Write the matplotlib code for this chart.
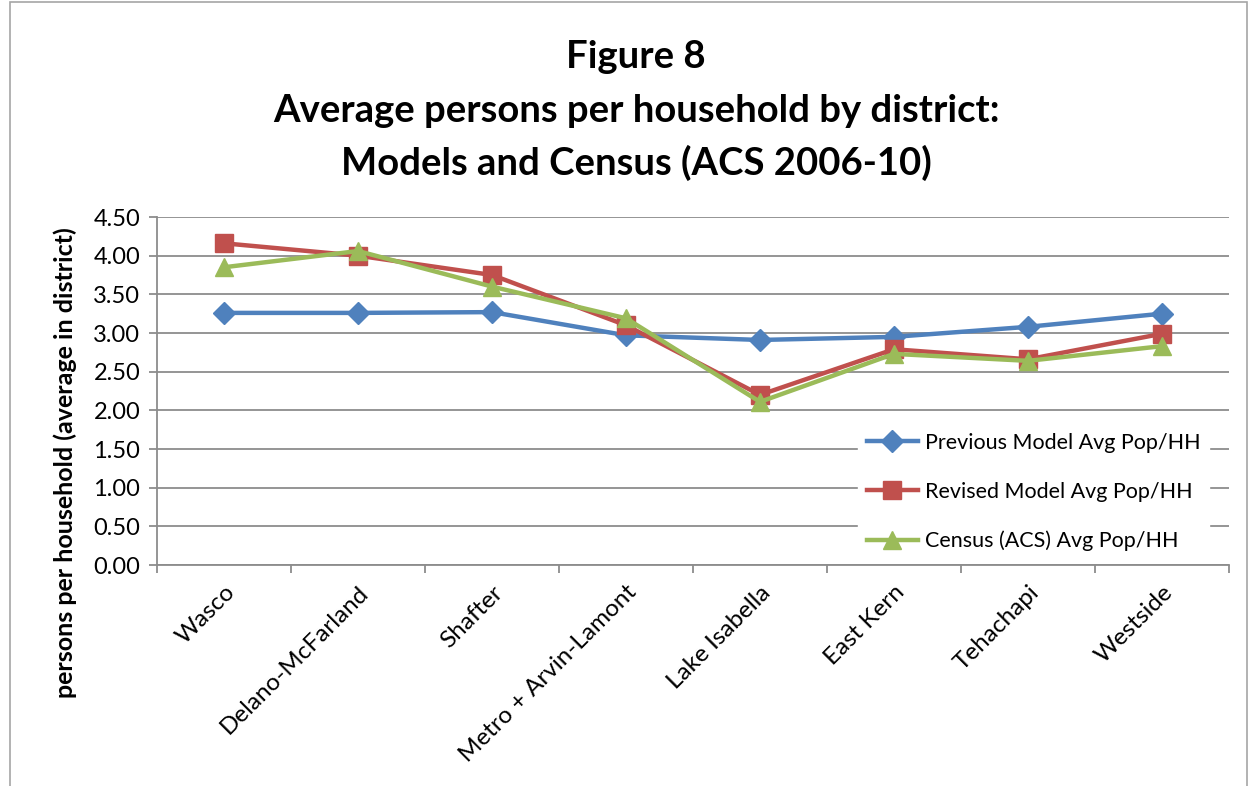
import numpy as np
import matplotlib
matplotlib.use("Agg")
import matplotlib.pyplot as plt
from matplotlib.patches import Rectangle

plt.rcParams['font.family'] = ['Lato', 'DejaVu Sans']

districts = ["Wasco", "Delano-McFarland", "Shafter", "Metro + Arvin-Lamont",
             "Lake Isabella", "East Kern", "Tehachapi", "Westside"]
previous = [3.26, 3.26, 3.27, 2.97, 2.91, 2.95, 3.08, 3.25]
revised = [4.16, 4.00, 3.75, 3.10, 2.20, 2.79, 2.66, 2.99]
census = [3.85, 4.06, 3.60, 3.19, 2.11, 2.73, 2.64, 2.83]

W, H = 1254, 786
fig = plt.figure(figsize=(W/100, H/100), dpi=100)
ax = fig.add_axes([157/W, 1-565/H, (1229-157)/W, (565-217)/H])

# outer chart border
fig.patches.append(Rectangle((10/W, -0.05), (1247-10)/W, 1.05-2/H, transform=fig.transFigure,
                             fill=False, edgecolor="#a6a6a6", lw=1.2))

x = np.arange(len(districts))
ax.plot(x, previous, color="#4F81BD", lw=3.2, marker="D", ms=11, label="Previous Model Avg Pop/HH", zorder=3)
ax.plot(x, revised, color="#C0504D", lw=3.2, marker="s", ms=12.5, label="Revised Model Avg Pop/HH", zorder=4)
ax.plot(x, census, color="#9BBB59", lw=3.2, marker="^", ms=13.5, label="Census (ACS) Avg Pop/HH", zorder=5)

ax.set_xlim(-0.5, len(districts)-0.5)
ax.set_ylim(0, 4.5)
ax.set_yticks(np.arange(0, 4.51, 0.5))
ax.set_yticklabels([f"{v:.2f}" for v in np.arange(0, 4.51, 0.5)], fontsize=17)
ax.yaxis.grid(True, color="#8c8c8c", lw=1.3)
ax.set_axisbelow(True)
for s in ["top", "right"]:
    ax.spines[s].set_visible(False)
for s in ["left", "bottom"]:
    ax.spines[s].set_color("#8c8c8c")
    ax.spines[s].set_linewidth(1.3)
ax.tick_params(axis="y", length=6, color="#8c8c8c", width=1.3, pad=6)

# category boundary ticks
ax.set_xticks(np.arange(-0.5, len(districts), 1.0))
ax.set_xticklabels([])
ax.tick_params(axis="x", length=6, color="#8c8c8c", width=1.3)
ax.set_xticks(x, minor=True)
ax.set_xticklabels(districts, minor=True, rotation=45, ha="right", rotation_mode="anchor", fontsize=17.5)
ax.tick_params(axis="x", which="minor", length=0, pad=12)

fig.text(65/W, 1-463/H, "persons per household (average in district)", rotation=90,
         ha="center", va="center", fontsize=18, fontweight="bold")

fig.text(636/W, 1-57/H, "Figure 8", ha="center", va="center", fontsize=27.5, fontweight="bold")
fig.text(636/W, 1-111/H, "Average persons per household by district:", ha="center", va="center",
         fontsize=27.5, fontweight="bold")
fig.text(636/W, 1-163/H, "Models and Census (ACS 2006-10)", ha="center", va="center",
         fontsize=27.5, fontweight="bold")

leg = ax.legend(loc="upper left", bbox_to_anchor=(858/W, 1-424/H), bbox_transform=fig.transFigure,
                frameon=True, fontsize=15.5, handlelength=2.4, handletextpad=0.3,
                labelspacing=1.35, borderpad=0.4, borderaxespad=0)
leg.get_frame().set_edgecolor("white")
leg.get_frame().set_facecolor("white")
leg.get_frame().set_alpha(1)

fig.savefig("out.png", dpi=100, facecolor="white")
